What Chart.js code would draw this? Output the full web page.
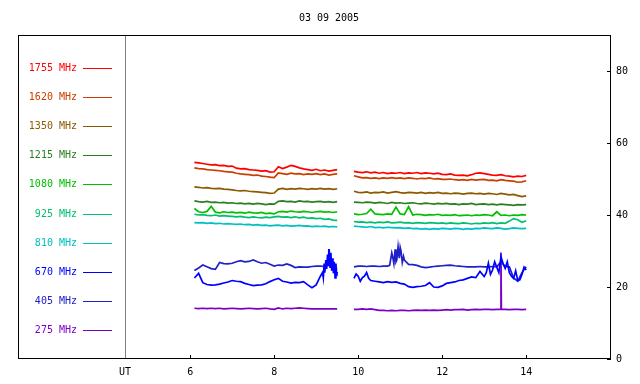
<!DOCTYPE html>
<html>
<head>
<meta charset="utf-8">
<script src="https://cdn.jsdelivr.net/npm/chart.js@4/dist/chart.umd.min.js"></script>
<style>
  html, body { margin: 0; padding: 0; background: #fff; }
  #wrap { width: 640px; height: 384px; }
</style>
</head>
<body>
<div id="wrap"><canvas id="myChart"></canvas></div>
<script>
// UT hours, two recording blocks with a gap between them
const timeA = [6.1,6.2,6.3,6.4,6.5,6.6,6.7,6.8,6.9,7.0,7.1,7.2,7.3,7.4,7.5,7.6,7.7,7.8,7.9,8.0,
  8.1,8.2,8.3,8.4,8.5,8.6,8.7,8.8,8.9,9.0,9.1,9.2,9.3,9.4,9.5];
const timeB = [9.9,10.0,10.1,10.2,10.3,10.4,10.5,10.6,10.7,10.8,10.9,11.0,11.1,11.2,11.3,11.4,11.5,11.6,11.7,11.8,11.9,12.0,
  12.1,12.2,12.3,12.4,12.5,12.6,12.7,12.8,12.9,13.0,13.1,13.2,13.3,13.4,13.5,13.6,13.7,13.8,13.9,14.0];

const freqLabels = ['1755 MHz','1620 MHz','1350 MHz','1215 MHz','1080 MHz','925 MHz','810 MHz','670 MHz','405 MHz','275 MHz'];
const xTicks = [6, 8, 10, 12, 14];
const yTicks = [0, 20, 40, 60, 80];
const utPos = 4.45;

// flux values: first 35 for block A, next 42 for block B
const f1755 = [54.6,54.5,54.3,54.1,53.9,54.0,53.7,53.8,53.5,53.6, 53.0,52.8,52.9,52.6,52.5,52.4,52.2,52.3,51.9,52.0,
  53.4,52.9,53.3,53.8,53.5,53.1,52.8,52.6,52.4,52.7, 52.3,52.5,52.2,52.4,52.6,
  52.1,51.9, 51.8,52.0,51.7,51.9,51.6,51.8,51.5,51.7,51.6,51.8, 51.5,51.7,51.6,51.8,51.5,51.7,51.6,51.4,51.6,51.3,
  51.2,51.4,51.1,51.0,51.1,50.9,51.2,51.6,51.7,51.5, 51.3,51.1,51.0,51.2,50.9,50.8,50.6,50.8,50.7,51.0];
const f1620 = [53.1,52.9,52.8,52.6,52.5,52.4,52.3,52.1,52.0,51.9, 51.6,51.4,51.3,51.2,51.0,51.1,50.8,50.7,50.5,50.4,
  51.7,51.5,51.3,51.6,51.4,51.5,51.2,51.4,51.3,51.5, 51.2,51.4,51.1,51.3,51.4,
  50.9,50.6, 50.3,50.4,50.2,50.3,50.1,50.3,50.2,50.4,50.2,50.3, 50.1,50.3,50.2,50.0,50.2,50.1,50.3,50.0,50.1,49.9,
  49.9,50.0,49.8,49.7,49.8,49.6,49.9,49.7,49.8,49.9, 49.6,49.7,49.5,49.8,49.6,49.5,49.4,49.1,49.2,49.5];
const f1350 = [47.8,47.7,47.5,47.6,47.4,47.3,47.4,47.2,47.1,47.0, 46.8,46.7,46.8,46.6,46.5,46.4,46.3,46.2,46.0,46.1,
  47.2,47.4,47.1,47.3,47.2,47.4,47.3,47.1,47.3,47.2, 47.4,47.2,47.3,47.1,47.3,
  46.6,46.3, 46.2,46.4,46.1,46.3,46.2,46.4,46.1,46.3,46.5,46.2, 46.1,46.3,46.2,46.1,46.3,46.0,46.2,46.1,46.3,46.0,
  46.1,45.9,46.1,46.0,45.8,46.0,46.1,45.9,46.0,45.8, 46.0,45.9,45.7,46.0,45.8,45.6,45.7,45.4,45.1,45.3];
const f1215 = [43.9,43.7,43.6,43.8,43.5,43.6,43.4,43.5,43.3,43.4, 43.2,43.3,43.1,43.2,43.0,43.2,43.1,42.9,43.1,43.0,
  43.8,43.9,43.7,43.8,43.6,43.9,43.7,43.8,43.6,43.7, 43.8,43.6,43.7,43.5,43.7,
  43.6,43.5, 43.4,43.6,43.5,43.3,43.5,43.4,43.2,43.5,43.3,43.4, 43.2,43.3,43.4,43.2,43.1,43.3,43.2,43.0,43.2,43.1,
  43.2,43.0,43.1,42.9,43.1,43.0,43.2,42.9,43.0,43.1, 42.9,43.0,42.8,43.0,42.9,42.8,42.7,42.9,42.8,42.9];
const f1080 = [41.8,40.9,40.7,41.0,42.4,40.8,40.6,40.9,40.7,40.8, 40.6,40.7,40.5,40.8,40.6,40.5,40.7,40.4,40.5,40.3,
  40.9,41.0,40.8,41.1,40.9,40.8,41.0,40.9,40.7,40.9, 41.0,40.8,40.9,40.7,40.9,
  40.3,40.1, 40.2,40.4,41.6,40.3,40.2,40.1,40.3,40.2,42.2,40.3, 40.1,42.3,40.0,40.2,40.1,39.9,40.1,40.0,40.2,39.9,
  40.0,39.9,40.1,39.8,39.9,40.0,39.8,40.0,39.9,40.1, 40.0,39.8,40.9,39.9,40.0,39.8,40.0,39.9,40.1,40.0];
const f925 = [40.2,40.0,40.1,39.9,39.8,40.0,39.7,39.8,39.7,39.6, 39.5,39.6,39.4,39.3,39.5,39.3,39.2,39.4,39.3,39.5,
  39.6,39.4,39.5,39.3,39.5,39.2,39.4,39.1,39.2,39.0, 39.1,38.8,38.9,38.6,38.5,
  38.2,38.0, 38.1,37.9,38.0,37.8,38.0,37.9,38.1,37.8,37.9,38.0, 37.8,37.9,37.7,37.9,37.8,37.7,37.9,37.8,37.7,37.8,
  37.6,37.8,37.7,37.6,37.8,37.7,37.5,37.7,37.6,37.8, 37.7,37.9,37.6,37.8,37.7,38.3,39.0,38.7,38.0,38.4];
const f810 = [37.9,37.8,37.9,37.7,37.8,37.6,37.7,37.5,37.6,37.5, 37.4,37.5,37.3,37.4,37.2,37.3,37.1,37.2,37.0,37.1,
  37.2,37.0,37.1,36.9,37.0,37.1,36.9,37.0,36.8,36.9, 36.8,36.9,36.7,36.8,36.7,
  36.9,36.8, 36.7,36.6,36.8,36.5,36.6,36.4,36.6,36.5,36.4,36.5, 36.3,36.4,36.2,36.3,36.1,36.2,36.0,36.2,36.1,36.3,
  36.2,36.1,36.3,36.2,36.0,36.2,36.1,36.3,36.2,36.4, 36.3,36.2,36.4,36.3,36.1,36.2,36.4,36.3,36.2,36.3];
const f670 = [22.5,23.8,21.2,20.7,20.5,20.6,20.8,21.1,21.4,21.8, 21.6,21.5,21.0,20.7,20.4,20.5,20.6,20.9,21.5,22.0,
  22.4,21.6,21.4,21.1,21.3,21.2,21.5,20.6,19.8,20.6, 23.0,26.0,30.3,25.6,24.2,
  22.4,23.0, 22.6,24.0,21.8,21.6,21.4,21.2,21.5,21.3,21.4,21.0, 20.8,20.1,19.9,20.1,20.2,20.4,21.2,20.0,19.9,20.3,
  21.0,21.2,21.4,21.8,22.0,22.4,22.8,22.6,24.3,22.9, 26.6,24.7,25.5,28.4,25.2,24.0,22.4,21.8,23.5,24.7];
const f405 = [24.6,25.3,26.1,25.6,25.1,24.9,26.8,26.5,26.4,26.6, 27.0,27.3,27.0,27.1,27.5,27.0,26.6,26.8,26.3,25.8,
  26.1,26.0,26.4,26.0,25.4,25.6,25.5,25.5,25.7,25.8, 25.8,25.7,26.5,25.2,25.0,
  25.6,25.8, 25.8,25.7,25.8,25.8,25.7,25.8,25.8,29.5,27.0,31.0, 27.5,26.3,26.2,26.0,25.6,25.4,25.5,25.7,25.8,25.9,
  26.0,26.1,25.9,25.8,25.7,25.6,25.6,25.6,25.7,25.6, 25.6,25.7,25.6,27.0,25.7,25.6,22.5,21.6,24.0,25.6];
const f275 = [14.1,14.0,14.1,14.0,14.1,14.0,14.1,13.9,14.0,14.1, 14.0,13.9,14.0,14.1,14.0,13.9,14.0,14.1,13.9,13.8,
  14.2,13.9,14.1,14.0,14.1,14.2,14.1,14.0,13.9,13.9, 13.9,13.9,13.9,13.9,13.9,
  13.8,13.8, 13.9,13.8,13.9,13.7,13.5,13.5,13.4,13.5,13.4,13.5, 13.5,13.4,13.5,13.6,13.5,13.6,13.5,13.6,13.5,13.6,
  13.7,13.6,13.7,13.7,13.8,13.6,13.7,13.8,13.7,13.8, 13.8,13.7,13.8,29.6,13.8,13.7,13.8,13.8,13.7,13.8];

// extra samples inside the bursty stretches
const burstT670 = [9.15,9.17,9.19,9.21,9.23,9.25,9.27,9.29,9.31,9.33,9.35,9.37,9.39,9.41,9.43,9.45,9.47,9.49,
  9.95,10.05,10.15,10.25, 13.05,13.15,13.25,13.35,13.45,13.55,13.65,13.75,13.85,13.95];
const burstV670 = [24.0,22.5,26.5,24.0,27.5,25.0,29.0,26.0,30.3,25.5,29.5,24.5,28.0,23.8,27.0,22.5,26.5,23.0,
  23.6,21.6,23.0,22.4, 24.0,23.5,27.0,24.0,26.5,27.0,23.0,24.5,22.0,25.5];
const burstT405 = [10.75,10.82,10.85,10.88,10.92,10.95,10.98,11.02,11.05,11.08];
const burstV405 = [26.0,28.5,26.5,30.5,27.5,31.2,28.0,30.0,26.8,28.5];
const burstT275 = [13.39,13.41];
const burstV275 = [13.8,13.8];

const seriesValues = [f1755, f1620, f1350, f1215, f1080, f925, f810, f670, f405, f275];
const burstTimes = [null, null, null, null, null, null, null, burstT670, burstT405, burstT275];
const burstVals = [null, null, null, null, null, null, null, burstV670, burstV405, burstV275];
const lineColors = ['#ff0000','#c84000','#8b5a00','#2a8020','#00c000','#00c070','#00c0c0','#0000ff','#2020c8','#7a00c8'];

function buildPoints(vals, bt, bv) {
  let pts = timeA.map((t, i) => ({ x: t, y: vals[i] }))
    .concat([{ x: 9.7, y: null }], timeB.map((t, i) => ({ x: t, y: vals[timeA.length + i] })));
  if (bt) {
    pts = pts.concat(bt.map((t, i) => ({ x: t, y: bv[i] })));
    pts.sort((p, q) => p.x - q.x);
  }
  return pts;
}

const datasets = seriesValues.map((vals, i) => ({
  label: freqLabels[i],
  data: buildPoints(vals, burstTimes[i], burstVals[i]),
  borderColor: lineColors[i],
  backgroundColor: lineColors[i],
  borderWidth: 1.7,
  pointRadius: 0,
  tension: 0,
  spanGaps: false
}));

// frequency key on the left, plus box and inward ticks
const framePlugin = {
  id: 'frame',
  afterDraw(chart) {
    const ctx = chart.ctx;
    const a = chart.chartArea;
    const xs = chart.scales.x;
    const ys = chart.scales.y;
    ctx.save();
    ctx.strokeStyle = '#000';
    ctx.lineWidth = 1;
    ctx.strokeRect(Math.round(a.left) + 0.5, Math.round(a.top) + 0.5,
      Math.round(a.right - a.left) - 1, Math.round(a.bottom - a.top) - 1);
    ctx.beginPath();
    xTicks.forEach(v => {
      const px = Math.round(xs.getPixelForValue(v)) + 0.5;
      ctx.moveTo(px, a.bottom);
      ctx.lineTo(px, a.bottom - 4);
    });
    yTicks.forEach(v => {
      const py = Math.round(ys.getPixelForValue(v)) + 0.5;
      ctx.moveTo(a.right, py);
      ctx.lineTo(a.right - 4, py);
    });
    ctx.stroke();

    ctx.font = '10px "DejaVu Sans Mono"';
    ctx.textAlign = 'right';
    ctx.textBaseline = 'middle';
    chart.data.datasets.forEach((ds, i) => {
      const y = Math.round(67.7 + i * 29.18) + 0.5;
      ctx.fillStyle = ds.borderColor;
      ctx.fillText(ds.label, 77, y);
      ctx.strokeStyle = ds.borderColor;
      ctx.beginPath();
      ctx.moveTo(83, y);
      ctx.lineTo(112, y);
      ctx.stroke();
    });
    ctx.restore();
  }
};

Chart.defaults.font.family = '"DejaVu Sans Mono"';
Chart.defaults.font.size = 10;
Chart.defaults.color = '#000';

const ctx = document.getElementById('myChart').getContext('2d');
const chart = new Chart(ctx, {
  type: 'line',
  data: { datasets: datasets },
  plugins: [framePlugin],
  options: {
    responsive: true,
    maintainAspectRatio: false,
    animation: false,
    layout: { padding: { left: 18, right: 0, top: 0, bottom: 0 } },
    plugins: {
      legend: { display: false },
      tooltip: { enabled: false },
      title: {
        display: true,
        text: '03 09 2005',
        color: '#000',
        font: { size: 10, weight: 'normal' },
        padding: { top: 12, bottom: 11 }
      }
    },
    scales: {
      x: {
        type: 'linear',
        min: 1.9,
        max: 16.02,
        afterBuildTicks: axis => {
          axis.ticks = [utPos].concat(xTicks).map(v => ({ value: v }));
        },
        afterFit: axis => { axis.height = 25; },
        ticks: {
          autoSkip: false,
          maxRotation: 0,
          padding: 7,
          callback: v => (v === utPos ? 'UT' : String(v))
        },
        grid: {
          drawTicks: false,
          color: c => (c.tick && c.tick.value === utPos ? '#808080' : 'rgba(0,0,0,0)')
        },
        border: { display: false }
      },
      y: {
        position: 'right',
        min: 0,
        max: 90,
        afterBuildTicks: axis => {
          axis.ticks = yTicks.map(v => ({ value: v }));
        },
        afterFit: axis => { axis.width = 29; },
        ticks: { padding: 5 },
        grid: { display: false, drawTicks: false },
        border: { display: false }
      }
    }
  }
});
</script>
</body>
</html>
